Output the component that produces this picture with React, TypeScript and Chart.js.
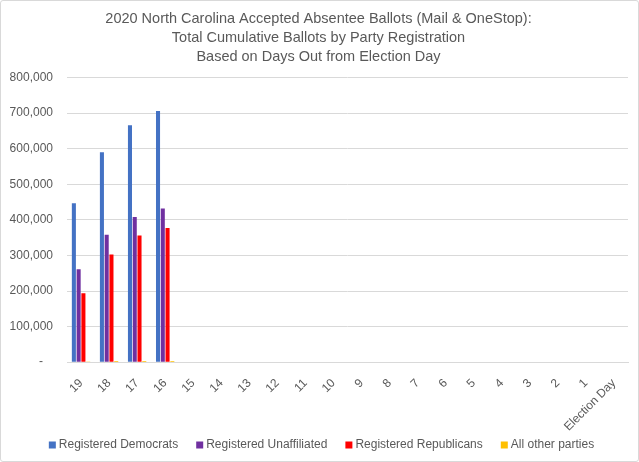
import React, { useEffect, useRef } from "react";
import { Chart, registerables } from "chart.js";

Chart.register(...registerables);

const categories = ["19", "18", "17", "16", "15", "14", "13", "12", "11", "10", "9", "8", "7", "6", "5", "4", "3", "2", "1", "Election Day"];
const democrats = [447000, 590000, 666000, 706000, null, null, null, null, null, null, null, null, null, null, null, null, null, null, null, null];
const unaffiliated = [261000, 358000, 408000, 432000, null, null, null, null, null, null, null, null, null, null, null, null, null, null, null, null];
const republicans = [194000, 303000, 356000, 377000, null, null, null, null, null, null, null, null, null, null, null, null, null, null, null, null];
const otherParties = [800, 3000, 3000, 3000, null, null, null, null, null, null, null, null, null, null, null, null, null, null, null, null];
const seriesNames = ["Registered Democrats", "Registered Unaffiliated", "Registered Republicans", "All other parties"];
const seriesColors = ["#4472C4", "#7030A0", "#FF0000", "#FFC000"];
const titleLines = [
  "2020 North Carolina Accepted Absentee Ballots (Mail & OneStop):",
  "Total Cumulative Ballots by Party Registration",
  "Based on Days Out from Election Day",
];

const FONT = "'Liberation Sans', Arial, sans-serif";
const TEXT = "#595959";

const bottomLegend = {
  id: "bottomLegend",
  afterDraw(chart: any) {
    const ctx = chart.ctx;
    const items = chart.data.datasets.map((d: any) => ({ text: d.label, color: d.backgroundColor }));
    ctx.save();
    ctx.font = `12px ${FONT}`;
    const box = 7;
    const gapText = 3;
    const gapItem = 18;
    const widths = items.map((it: any) => ctx.measureText(it.text).width);
    const total = widths.reduce((a: number, w: number) => a + box + gapText + w, 0) + gapItem * (items.length - 1);
    let x = chart.width / 2 + 2 - total / 2;
    const y = chart.height - 16;
    ctx.textBaseline = "middle";
    ctx.textAlign = "left";
    items.forEach((it: any, i: number) => {
      ctx.fillStyle = it.color;
      ctx.fillRect(x, y - box / 2, box, box);
      ctx.fillStyle = TEXT;
      ctx.fillText(it.text, x + box + gapText, y);
      x += box + gapText + widths[i] + gapItem;
    });
    ctx.restore();
  },
};

export default function App() {
  const ref = useRef<HTMLCanvasElement | null>(null);
  useEffect(() => {
    document.body.style.margin = "0";
    if (!ref.current) return;
    const chart = new Chart(ref.current, {
      type: "bar",
      data: {
        labels: categories,
        datasets: [
          { label: seriesNames[0], data: democrats, backgroundColor: seriesColors[0] },
          { label: seriesNames[1], data: unaffiliated, backgroundColor: seriesColors[1] },
          { label: seriesNames[2], data: republicans, backgroundColor: seriesColors[2] },
          { label: seriesNames[3], data: otherParties, backgroundColor: seriesColors[3] },
        ],
      },
      options: {
        animation: false,
        responsive: true,
        maintainAspectRatio: false,
        datasets: { bar: { categoryPercentage: 0.68, barPercentage: 0.85 } },
        layout: { padding: { left: 8, right: 10, top: 0, bottom: 21 } },
        plugins: {
          title: {
            display: true,
            text: titleLines,
            color: TEXT,
            font: { family: FONT, size: 14.5, weight: "normal", lineHeight: 1.3 },
            padding: { top: 9, bottom: 11 },
          },
          legend: { display: false },
          tooltip: { enabled: false },
        },
        scales: {
          x: {
            grid: { display: false },
            border: { color: "#d9d9d9" },
            ticks: {
              color: TEXT,
              font: { family: FONT, size: 12 },
              maxRotation: 45,
              minRotation: 45,
              autoSkip: false,
              padding: 6,
            },
          },
          y: {
            min: 0,
            max: 800000,
            border: { display: false },
            grid: { color: "#d9d9d9", drawTicks: false },
            afterFit: (scale: any) => {
              scale.width = 58;
            },
            ticks: {
              stepSize: 100000,
              color: TEXT,
              font: { family: FONT, size: 12 },
              padding: 14,
              callback: (v: any) => (Number(v) === 0 ? "-   " : Number(v).toLocaleString("en-US")),
            },
          },
        },
      },
      plugins: [bottomLegend],
    });
    return () => chart.destroy();
  }, []);
  return (
    <div
      style={{
        width: 639,
        height: 462,
        boxSizing: "border-box",
        border: "1px solid #d9d9d9",
        borderRadius: 3,
        background: "#fff",
        position: "relative",
      }}
    >
      <canvas ref={ref} />
    </div>
  );
}
